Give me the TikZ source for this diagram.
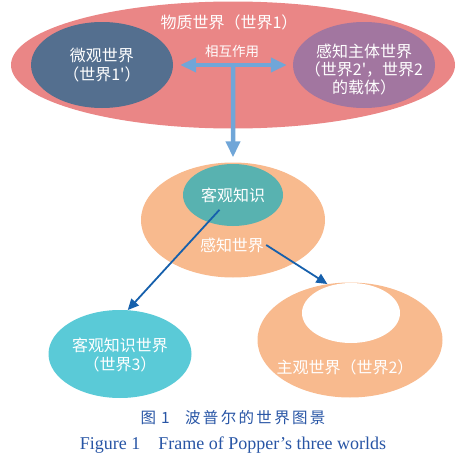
\documentclass[tikz,border=0pt]{standalone}
\usepackage{fontspec}
\usepackage{xcolor}
\usepackage{tikz}
\setmainfont{Liberation Serif}
\newfontfamily\cjk{Noto Sans CJK SC}
\usetikzlibrary{shapes.geometric, arrows.meta, positioning, calc}
\definecolor{worldred}{RGB}{234,134,134}
\definecolor{microblue}{RGB}{84,111,143}
\definecolor{subjpurple}{RGB}{162,118,160}
\definecolor{senseorange}{RGB}{248,186,142}
\definecolor{knowteal}{RGB}{88,178,176}
\definecolor{thirdcyan}{RGB}{90,202,215}
\definecolor{linkblue}{RGB}{112,166,216}
\definecolor{flowblue}{RGB}{22,96,172}
\definecolor{capblue}{RGB}{40,85,165}

\begin{document}
\begin{tikzpicture}[
  x=1pt, y=-1pt,
  blob/.style={ellipse, draw=none, inner sep=0pt},
  txt/.style={text=white, align=center, inner sep=2pt, font=\cjk\fontsize{16}{19}\selectfont},
  linkarrow/.style={draw=linkblue, line width=4.5pt, -{Triangle[length=16pt, width=14pt]}},
  doublelink/.style={draw=linkblue, line width=4.5pt, {Triangle[length=16pt, width=14pt]}-{Triangle[length=16pt, width=14pt]}},
  flowarrow/.style={draw=flowblue, line width=1.8pt, -{Triangle[length=11pt, width=10pt]}},
]
\useasboundingbox (0,0) rectangle (475,461);

% World 1
\node[blob, fill=worldred, minimum width=444pt, minimum height=127pt] (world1) at (233,65) {};
\node[txt] (world1txt) at (229,22) {物质世界（世界1）};
\node[blob, fill=microblue, minimum width=142pt, minimum height=86pt] (micro) at (102,65) {};
\node[txt] (microtxt) at (micro.center) {微观世界\\（世界1'）};
\node[blob, fill=subjpurple, minimum width=142pt, minimum height=86pt] (subject) at (364,65) {};
\node[txt, font=\cjk\fontsize{16}{18}\selectfont] (subjecttxt) at (364,70) {感知主体世界\\（世界2'，世界2\\的载体）};

% Interaction arrows
\node[txt, font=\cjk\fontsize{13.5}{16}\selectfont] (linktxt) at (232,51) {相互作用};
\draw[doublelink, shorten <=7pt, shorten >=6pt] (micro.east) -- (subject.west);
\coordinate (hub) at ($(micro.east)!0.5!(subject.west)$);

% Perceived world
\node[blob, fill=senseorange, minimum width=184pt, minimum height=115pt] (perceive) at (233,220) {};
\node[blob, fill=knowteal, minimum width=100pt, minimum height=62pt] (objknow) at (233,195) {};
\node[txt] (objknowtxt) at (objknow.center) {客观知识};
\node[txt] (perceivetxt) at (232,245) {感知世界};
\draw[linkarrow] (hub) -- ([yshift=5pt]perceive.north);

% World 3 and world 2
\node[blob, fill=thirdcyan, minimum width=143pt, minimum height=88pt] (world3) at (120,354) {};
\node[txt] (world3txt) at (120,355) {客观知识世界\\（世界3）};
\node[blob, fill=senseorange, minimum width=185pt, minimum height=115pt] (world2) at (350,340) {};
\node[blob, fill=white, minimum width=98pt, minimum height=60pt] (hole) at (351,313) {};
\node[txt] (world2txt) at (345,367) {主观世界（世界2）};

\draw[flowarrow, shorten <=20pt] (objknow.center) -- (world3.80);
\draw[flowarrow] (perceivetxt.east) -- (world2.112);

% Caption
\node[text=capblue, font=\cjk\fontsize{15.5}{18}\selectfont\addfontfeature{LetterSpace=15}] (capcn) at (233,418) {图\hspace{5pt}1\quad 波普尔的世界图景};
\node[text=capblue, font=\fontsize{18}{20}\selectfont] (capen) at (233,445) {Figure 1\quad Frame of Popper’s three worlds};

\end{tikzpicture}
\end{document}
